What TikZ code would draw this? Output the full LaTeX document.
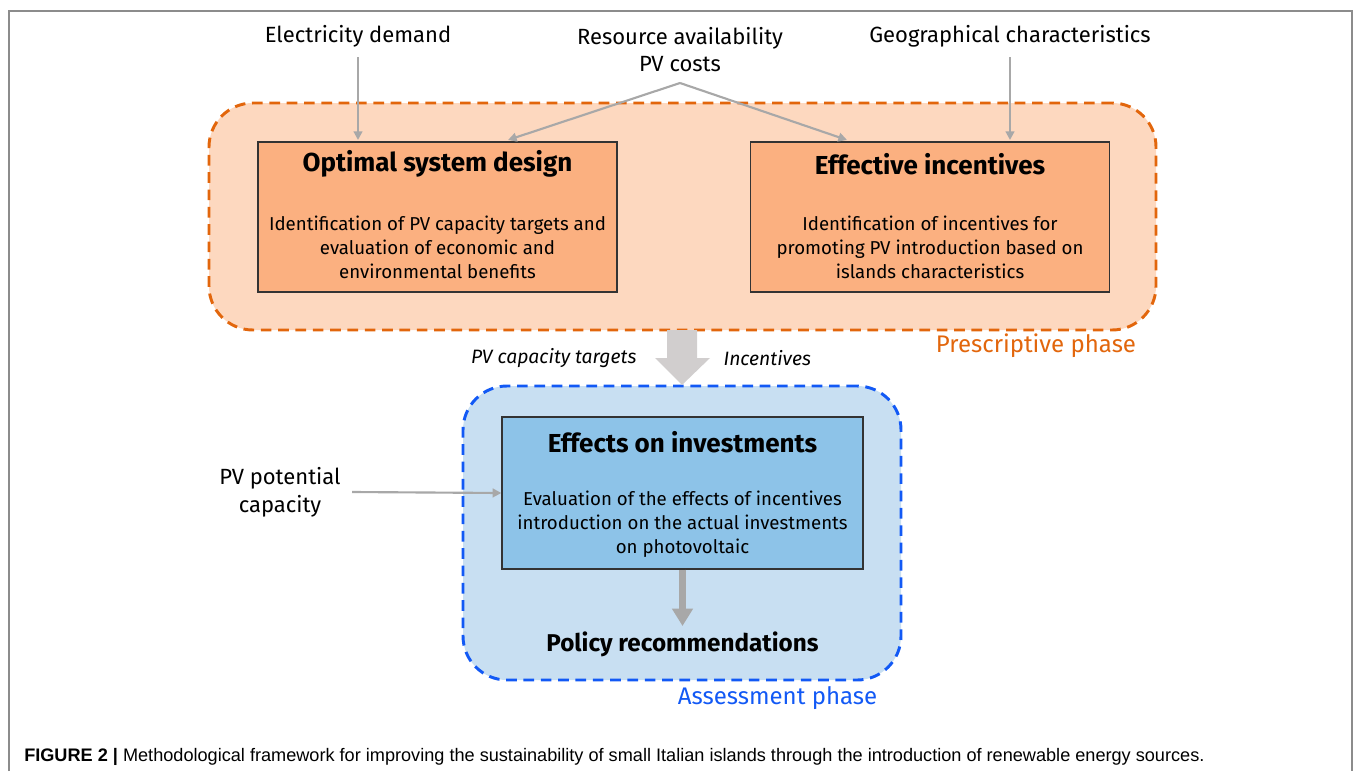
\documentclass[tikz,border=0pt]{standalone}
\usepackage{fontspec}
\setmainfont{Fira Sans}
\newfontfamily\capfont{Liberation Sans}
\usetikzlibrary{arrows.meta}
\definecolor{orfill}{HTML}{FDD8BF}
\definecolor{orbox}{HTML}{FBB080}
\definecolor{ordash}{HTML}{E2660C}
\definecolor{blfill}{HTML}{C8DFF2}
\definecolor{blbox}{HTML}{8DC3E8}
\definecolor{bldash}{HTML}{1259F5}
\definecolor{arrgray}{HTML}{A8A8A8}
\definecolor{biggray}{HTML}{D1CECE}
\definecolor{framegray}{HTML}{8C8C8C}
\tikzset{
  phasebox/.style={rounded corners=33pt, line width=2.2pt, dash pattern=on 8pt off 5pt, inner sep=0pt},
  stagebox/.style={draw=black!80, line width=1pt, inner sep=0pt},
  inlabel/.style={font=\fontsize{16.5}{20}\selectfont, inner sep=1pt},
  titlelabel/.style={font=\fontsize{19.5}{23}\selectfont\bfseries, inner sep=0pt},
  bodylabel/.style={font=\fontsize{14}{18}\selectfont, align=center, inner sep=0pt},
  thinarrow/.style={draw=arrgray, line width=1.6pt, -{Triangle[width=6.5pt,length=6.5pt]}},
}
\begin{document}
\begin{tikzpicture}[x=0.75pt,y=-0.75pt]
\useasboundingbox (0,0) rectangle (1355,771);
\draw[framegray, line width=1pt] (9,771) -- (9,11) -- (1352,11) -- (1352,771);
% phases
\node[phasebox, fill=orfill, draw=ordash, minimum width=710.25pt, minimum height=170.25pt] (pp) at (682.5,216.5) {};
\node[phasebox, fill=blfill, draw=bldash, minimum width=328.5pt, minimum height=220.5pt] (ap) at (682,533) {};
% stage boxes
\node[stagebox, fill=orbox, minimum width=269.25pt, minimum height=112.5pt] (b1) at (437.5,217) {};
\node[stagebox, fill=orbox, minimum width=269.25pt, minimum height=112.5pt] (b2) at (930,217) {};
\node[stagebox, fill=blbox, minimum width=270.75pt, minimum height=114pt] (b3) at (682.5,493) {};
% titles and bodies
\node[titlelabel] (t1) at (437.5,164) {Optimal system design};
\node[bodylabel] (d1) at (437.5,247) {Identification of PV capacity targets and\\evaluation of economic and\\environmental benefits};
\node[titlelabel] (t2) at (930,164) {Effective incentives};
\node[bodylabel] (d2) at (930,247) {Identification of incentives for\\promoting PV introduction based on\\islands characteristics};
\node[titlelabel] (t3) at (682.5,442) {Effects on investments};
\node[bodylabel] (d3) at (682.5,524) {Evaluation of the effects of incentives\\introduction on the actual investments\\on photovoltaic};
\node[titlelabel, font=\fontsize{18.2}{22}\selectfont\bfseries] (pr) at (682.5,644) {Policy recommendations};
% inputs
\node[inlabel] (ed) at (358,36) {Electricity demand};
\node[inlabel, align=center, font=\fontsize{16.5}{20.25}\selectfont] (ra) at (680,49.5) {Resource availability\\PV costs};
\node[inlabel] (gc) at (1010,36) {Geographical characteristics};
\node[inlabel, align=center, font=\fontsize{16.5}{21}\selectfont] (pv) at (280,492) {PV potential\\capacity};
\coordinate (rs) at (680,83);
\draw[thinarrow] (358,57) -- (358,140);
\draw[thinarrow] (1010,57) -- (1010,140);
\draw[thinarrow] (rs) -- (508,140);
\draw[thinarrow] (rs) -- (847,140);
\draw[thinarrow] (352,492) -- (b3.west);
% phase labels
\node[inlabel, text=ordash, font=\fontsize{18}{22}\selectfont] (pl) at (1036,346) {Prescriptive phase};
\node[inlabel, text=bldash, font=\fontsize{18}{22}\selectfont] (al) at (777.5,698) {Assessment phase};
% big arrow
\fill[biggray] (667,330) -- (697,330) -- (697,358) -- (710,358) -- (682,385) -- (655,358) -- (667,358) -- cycle;
\node[inlabel, anchor=east, font=\fontsize{14.5}{18}\selectfont\itshape] (lt) at (638,358) {PV capacity targets};
\node[inlabel, anchor=west, font=\fontsize{14.5}{18}\selectfont\itshape] (li) at (722,358) {Incentives};
% result arrow
\draw[draw=arrgray, line width=5.25pt, -{Triangle[width=15pt,length=13pt]}] (b3.south) -- (682.5,626);
% caption
\node[anchor=west, inner sep=0pt, font=\capfont\fontsize{13.6}{16}\selectfont] (cap) at (24,757) {\textbf{FIGURE 2 |} Methodological framework for improving the sustainability of small Italian islands through the introduction of renewable energy sources.};
\end{tikzpicture}
\end{document}
